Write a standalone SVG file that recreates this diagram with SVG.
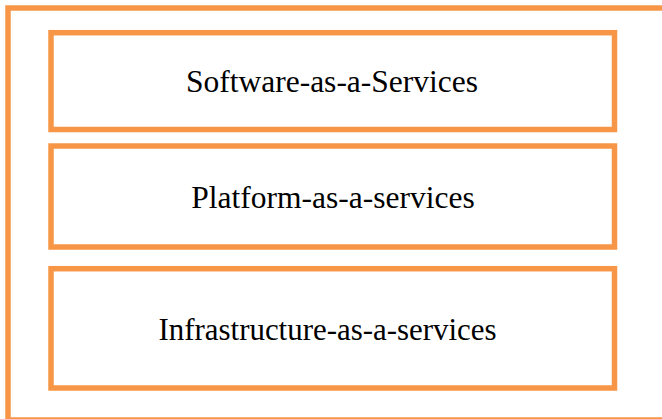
<svg xmlns="http://www.w3.org/2000/svg" width="662" height="419" viewBox="0 0 662 419">
<style>
.box{fill:none;stroke:#F79646;stroke-width:5.5}
.lbl{font-family:"Liberation Serif","Times New Roman",serif;font-size:31.5px;fill:#000;text-anchor:middle}
</style>
<rect width="662" height="419" fill="#fff"/>
<g id="frame"><rect class="box" x="8" y="8" width="662" height="412"/></g>
<g id="saas"><rect class="box" x="51" y="32.7" width="563.5" height="96.8"/><text class="lbl" x="332" y="91.7">Software-as-a-Services</text></g>
<g id="paas"><rect class="box" x="51" y="146" width="563.5" height="101"/><text class="lbl" x="333" y="208.3">Platform-as-a-services</text></g>
<g id="iaas"><rect class="box" x="51" y="268.7" width="563.5" height="119.3"/><text class="lbl" x="327.5" y="339.5" textLength="338" lengthAdjust="spacingAndGlyphs">Infrastructure-as-a-services</text></g>
<g id="connectors"/>
</svg>
